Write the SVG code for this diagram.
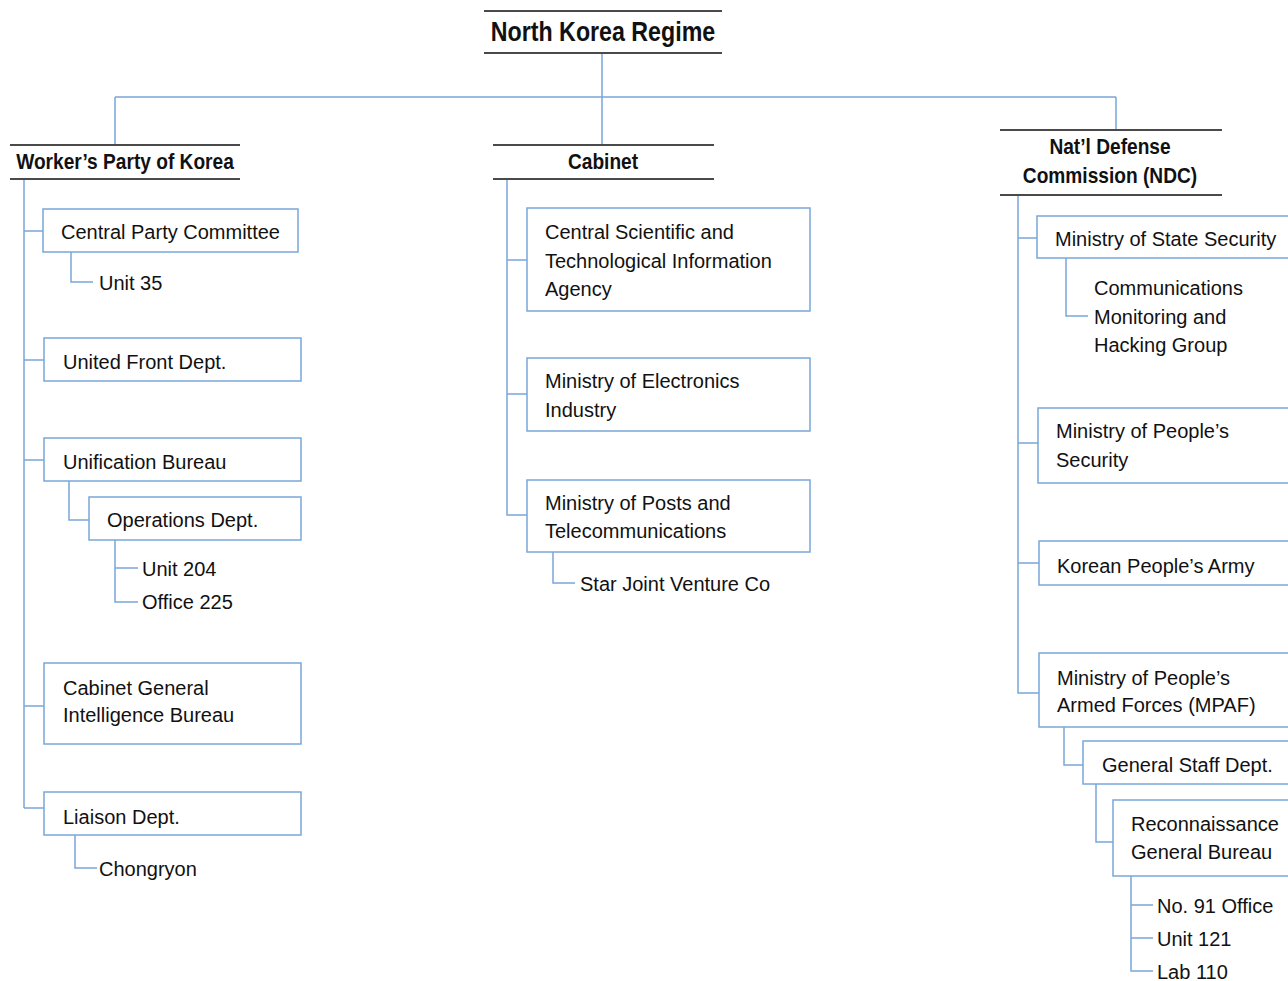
<svg xmlns="http://www.w3.org/2000/svg" width="1288" height="981" viewBox="0 0 1288 981">
<style>
.bg{fill:#ffffff}
.box{fill:#ffffff;stroke:#7ba7d9;stroke-width:1.5}
.con{fill:none;stroke:#7ba7d9;stroke-width:1.5}
.hl{stroke:#4a4a4a;stroke-width:2}
.t{font-family:"Liberation Sans",Arial,sans-serif;font-size:20px;fill:#111111}
.h{font-family:"Liberation Sans",Arial,sans-serif;font-weight:bold;fill:#111111}
</style>
<rect class="bg" x="0" y="0" width="1288" height="981"/>
<g id="connectors">
<path class="con" d="M602,53 V145 M115,97 H1116 M115,97 V145 M1116,97 V130"/>
<path class="con" d="M24,179 V808 M24,231 H43 M24,360 H44 M24,460 H44 M24,706 H44 M24,808 H44"/>
<path class="con" d="M71,252 V282 H93"/>
<path class="con" d="M69,481 V520 H89"/>
<path class="con" d="M115,540 V602 H138 M115,568 H138"/>
<path class="con" d="M75,835 V868 H97"/>
<path class="con" d="M507,179 V515 H527 M507,260 H527 M507,394 H527"/>
<path class="con" d="M553,552 V583 H575"/>
<path class="con" d="M1018,195 V693 H1039 M1018,238 H1037 M1018,443 H1038 M1018,563 H1039"/>
<path class="con" d="M1066,258 V316 H1088"/>
<path class="con" d="M1064,727 V765 H1083"/>
<path class="con" d="M1096,784 V842 H1113"/>
<path class="con" d="M1131,876 V971 H1153 M1131,905 H1153 M1131,938 H1153"/>
</g>
<g id="root">
<line class="hl" x1="484" y1="11" x2="722" y2="11"/>
<line class="hl" x1="484" y1="53" x2="722" y2="53"/>
<text class="h" font-size="27" text-anchor="middle" transform="translate(603,41) scale(0.86,1)">North Korea Regime</text>
</g>
<g id="wpk">
<line class="hl" x1="10" y1="145" x2="240" y2="145"/>
<line class="hl" x1="10" y1="179" x2="240" y2="179"/>
<text class="h" font-size="22" text-anchor="middle" transform="translate(125,169) scale(0.87,1)">Worker’s Party of Korea</text>
</g>
<g id="cabinet">
<line class="hl" x1="493" y1="145" x2="714" y2="145"/>
<line class="hl" x1="493" y1="179" x2="714" y2="179"/>
<text class="h" font-size="22" text-anchor="middle" transform="translate(603,169) scale(0.87,1)">Cabinet</text>
</g>
<g id="ndc">
<line class="hl" x1="1000" y1="130" x2="1222" y2="130"/>
<line class="hl" x1="1000" y1="195" x2="1222" y2="195"/>
<text class="h" font-size="22" text-anchor="middle" transform="translate(1110,154) scale(0.87,1)">Nat’l Defense</text>
<text class="h" font-size="22" text-anchor="middle" transform="translate(1110,183) scale(0.87,1)">Commission (NDC)</text>
</g>
<g id="central-party-committee">
<rect class="box" x="43" y="209" width="255" height="43"/>
<text class="t" x="61" y="239">Central Party Committee</text>
</g>
<g id="unit35"><text class="t" x="99" y="290">Unit 35</text></g>
<g id="united-front">
<rect class="box" x="44" y="338" width="257" height="43"/>
<text class="t" x="63" y="369">United Front Dept.</text>
</g>
<g id="unification-bureau">
<rect class="box" x="44" y="438" width="257" height="43"/>
<text class="t" x="63" y="469">Unification Bureau</text>
</g>
<g id="operations-dept">
<rect class="box" x="89" y="497" width="212" height="43"/>
<text class="t" x="107" y="527">Operations Dept.</text>
</g>
<g id="unit204"><text class="t" x="142" y="576">Unit 204</text></g>
<g id="office225"><text class="t" x="142" y="609">Office 225</text></g>
<g id="cgib">
<rect class="box" x="44" y="663" width="257" height="81"/>
<text class="t" x="63" y="695">Cabinet General</text>
<text class="t" x="63" y="722">Intelligence Bureau</text>
</g>
<g id="liaison">
<rect class="box" x="44" y="792" width="257" height="43"/>
<text class="t" x="63" y="824">Liaison Dept.</text>
</g>
<g id="chongryon"><text class="t" x="99" y="876">Chongryon</text></g>
<g id="cstia">
<rect class="box" x="527" y="208" width="283" height="103"/>
<text class="t" x="545" y="239">Central Scientific and</text>
<text class="t" x="545" y="268">Technological Information</text>
<text class="t" x="545" y="296">Agency</text>
</g>
<g id="electronics">
<rect class="box" x="527" y="358" width="283" height="73"/>
<text class="t" x="545" y="388">Ministry of Electronics</text>
<text class="t" x="545" y="417">Industry</text>
</g>
<g id="posts">
<rect class="box" x="527" y="480" width="283" height="72"/>
<text class="t" x="545" y="510">Ministry of Posts and</text>
<text class="t" x="545" y="538">Telecommunications</text>
</g>
<g id="star-jv"><text class="t" x="580" y="591">Star Joint Venture Co</text></g>
<g id="state-security">
<rect class="box" x="1037" y="216" width="270" height="42"/>
<text class="t" x="1055" y="246">Ministry of State Security</text>
</g>
<g id="cmhg">
<text class="t" x="1094" y="295">Communications</text>
<text class="t" x="1094" y="324">Monitoring and</text>
<text class="t" x="1094" y="352">Hacking Group</text>
</g>
<g id="peoples-security">
<rect class="box" x="1038" y="408" width="270" height="75"/>
<text class="t" x="1056" y="438">Ministry of People’s</text>
<text class="t" x="1056" y="467">Security</text>
</g>
<g id="kpa">
<rect class="box" x="1039" y="541" width="270" height="44"/>
<text class="t" x="1057" y="573">Korean People’s Army</text>
</g>
<g id="mpaf">
<rect class="box" x="1039" y="653" width="270" height="74"/>
<text class="t" x="1057" y="685">Ministry of People’s</text>
<text class="t" x="1057" y="712">Armed Forces (MPAF)</text>
</g>
<g id="general-staff">
<rect class="box" x="1083" y="741" width="225" height="43"/>
<text class="t" x="1102" y="772">General Staff Dept.</text>
</g>
<g id="rgb">
<rect class="box" x="1113" y="800" width="195" height="76"/>
<text class="t" x="1131" y="831">Reconnaissance</text>
<text class="t" x="1131" y="859">General Bureau</text>
</g>
<g id="no91"><text class="t" x="1157" y="913">No. 91 Office</text></g>
<g id="unit121"><text class="t" x="1157" y="946">Unit 121</text></g>
<g id="lab110"><text class="t" x="1157" y="979">Lab 110</text></g>
</svg>
